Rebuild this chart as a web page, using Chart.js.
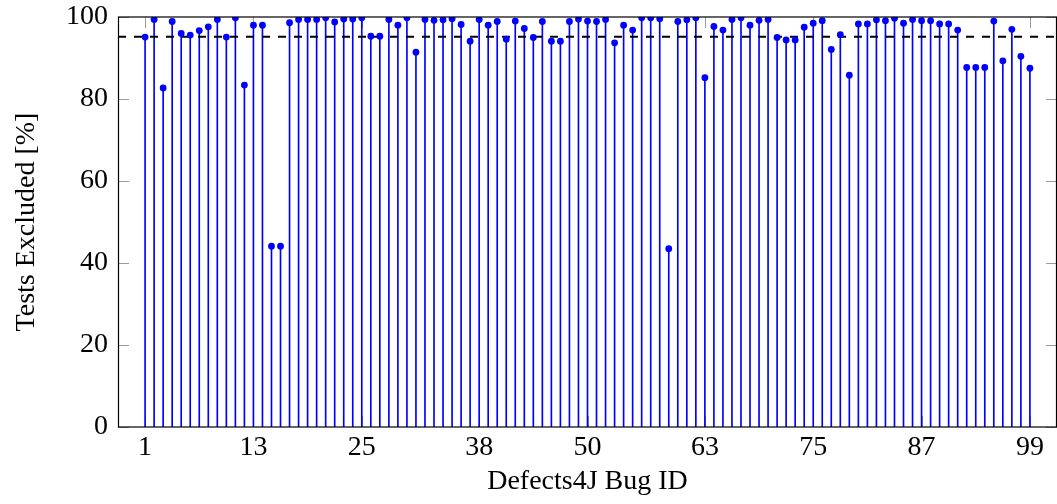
<!DOCTYPE html>
<html>
<head>
<meta charset="utf-8">
<script src="https://cdn.jsdelivr.net/npm/chart.js@4.4.1/dist/chart.umd.min.js"></script>
<style>
  html, body { margin: 0; padding: 0; background: #fff; overflow: hidden; }
  #wrap { width: 1057px; height: 504px; }
  canvas { display: block; }
</style>
</head>
<body>
<div id="wrap"><canvas id="c" width="1057" height="504"></canvas></div>
<script>
// ---- data ----
const bugIds = [1,2,3,4,5,6,7,8,9,10,11,12,13,14,15,16,17,18,19,20,
  21,22,23,24,25,26,27,28,29,30,31,32,33,34,35,36,37,38,39,40,
  41,42,43,44,45,46,47,48,49,50,51,52,53,54,55,56,57,58,59,60,
  61,62,63,64,65,66,67,68,69,70,71,72,73,74,75,76,77,78,79,80,
  81,82,83,84,85,86,87,88,89,90,91,92,93,94,95,96,97,98,99];
const testsExcluded = [
  95.1, 99.4, 82.7, 98.9, 96.0, 95.6, 96.7, 97.6, 99.4, 95.1,
  99.8, 83.4, 98.0, 98.0, 44.1, 44.1, 98.6, 99.4, 99.4, 99.4,
  99.8, 98.8, 99.5, 99.5, 99.8, 95.3, 95.3, 99.4, 98.0, 99.8,
  91.4, 99.4, 99.2, 99.3, 99.6, 98.2, 94.1, 99.4, 98.0, 98.9,
  94.6, 99.0, 97.2, 95.0, 98.9, 94.1, 94.1, 98.9, 99.5, 99.0,
  98.9, 99.4, 93.7, 98.0, 96.8, 99.8, 99.8, 99.6, 43.5, 98.9,
  99.3, 99.8, 85.2, 97.7, 96.8, 99.4, 99.8, 98.0, 99.2, 99.4,
  95.0, 94.4, 94.4, 97.5, 98.5, 99.1, 92.1, 95.7, 85.8, 98.3,
  98.3, 99.3, 99.1, 99.7, 98.5, 99.4, 99.1, 99.1, 98.3, 98.3,
  96.8, 87.7, 87.7, 87.7, 99.0, 89.3, 97.0, 90.4, 87.5];
const meanExcluded = 95.2;
const xTickValues = [1, 13, 25, 38, 50, 63, 75, 87, 99];
const yTickValues = [0, 20, 40, 60, 80, 100];
const xLimits = [-2, 102];
const yLimits = [0, 100];

const FONT = { family: "'Liberation Serif', 'Times New Roman', serif", size: 28, weight: 'normal' };

const points = bugIds.map((id, i) => ({ x: id, y: testsExcluded[i] }));
const meanLine = xLimits.map(x => ({ x: x, y: meanExcluded }));

function noEdgePadding(s) {
  s.paddingTop = 0; s.paddingBottom = 0; s.paddingLeft = 0; s.paddingRight = 0;
}

const frameAndTicks = {
  id: 'frameAndTicks',
  beforeDatasetsDraw(chart) {
    const { ctx, chartArea: a, scales: { x, y } } = chart;
    const L = 11;
    ctx.save();
    ctx.strokeStyle = '#9a9a9a';
    ctx.lineWidth = 1;
    ctx.beginPath();
    x.ticks.forEach(t => {
      const px = Math.round(x.getPixelForValue(t.value)) + 0.5;
      ctx.moveTo(px, a.bottom); ctx.lineTo(px, a.bottom - L);
      ctx.moveTo(px, a.top); ctx.lineTo(px, a.top + L);
    });
    y.ticks.forEach(t => {
      const py = Math.round(y.getPixelForValue(t.value)) + 0.5;
      ctx.moveTo(a.left, py); ctx.lineTo(a.left + L, py);
      ctx.moveTo(a.right, py); ctx.lineTo(a.right - L, py);
    });
    ctx.stroke();
    ctx.restore();
  },
  afterDatasetsDraw(chart) {
    const { ctx, chartArea: a } = chart;
    ctx.save();
    ctx.strokeStyle = '#000';
    ctx.lineWidth = 1.2;
    ctx.strokeRect(a.left + 0.5, a.top, a.right - a.left - 1, a.bottom - a.top);
    ctx.restore();
  }
};

new Chart(document.getElementById('c'), {
  type: 'scatter',
  data: {
    datasets: [
      { type: 'bar', label: 'stems', data: points, backgroundColor: '#0000ff', borderWidth: 0, barThickness: 1, order: 3 },
      { type: 'line', label: 'mean', data: meanLine, borderColor: '#000', borderWidth: 2, borderDash: [8, 8], pointRadius: 0, fill: false, order: 2 },
      { type: 'scatter', label: 'points', data: points, backgroundColor: '#0000ff', borderWidth: 0, pointRadius: 3.4, order: 1 }
    ]
  },
  options: {
    responsive: false,
    animation: false,
    devicePixelRatio: 1,
    layout: { autoPadding: false, padding: { left: 0, right: 0, top: 17, bottom: 0 } },
    plugins: { legend: { display: false }, tooltip: { enabled: false } },
    scales: {
      x: {
        type: 'linear', min: xLimits[0], max: xLimits[1], offset: false,
        afterBuildTicks: s => { s.ticks = xTickValues.map(v => ({ value: v })); },
        afterFit: s => { s.height = 77; noEdgePadding(s); },
        ticks: { font: FONT, color: '#000', padding: 4, maxRotation: 0, autoSkip: false, callback: v => String(v) },
        grid: { display: false, drawTicks: false, offset: false },
        border: { display: false },
        title: { display: true, text: 'Defects4J Bug ID', font: FONT, color: '#000', padding: { top: 0, bottom: 6 } }
      },
      y: {
        type: 'linear', min: yLimits[0], max: yLimits[1],
        afterBuildTicks: s => { s.ticks = yTickValues.map(v => ({ value: v })); },
        afterFit: s => { s.width = 118; noEdgePadding(s); },
        ticks: { font: FONT, color: '#000', padding: 10 },
        grid: { display: false, drawTicks: false },
        border: { display: false },
        title: { display: true, text: 'Tests Excluded [%]', font: FONT, color: '#000', padding: { top: 10, bottom: 0 } }
      }
    }
  },
  plugins: [frameAndTicks]
});
</script>
</body>
</html>
